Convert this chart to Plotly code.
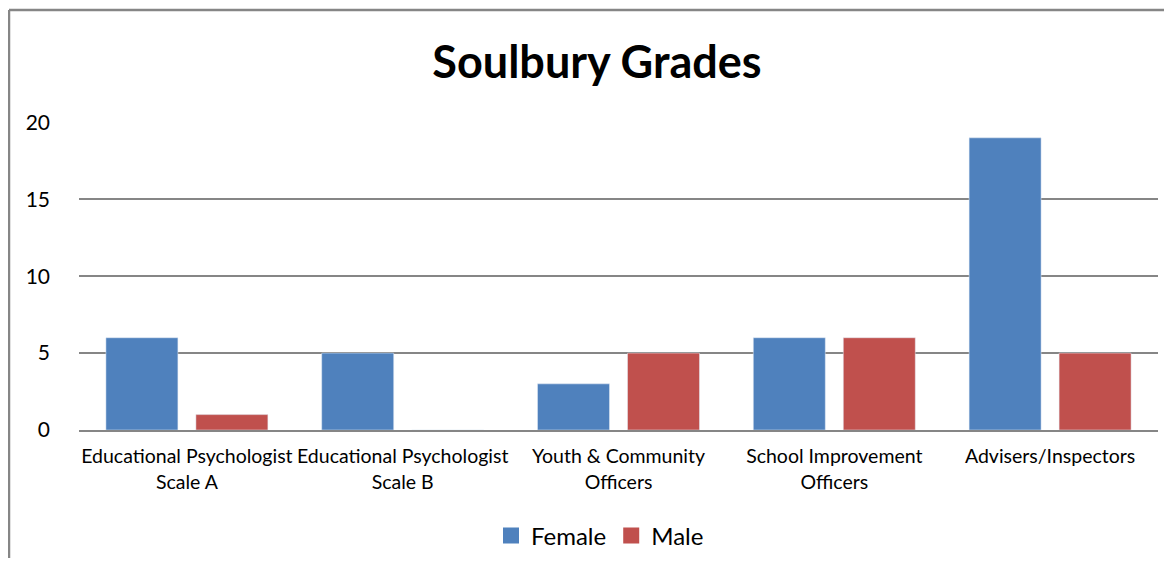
import plotly.graph_objects as go

categories = ["Educational Psychologist<br>Scale A", "Educational Psychologist<br>Scale B",
              "Youth & Community<br>Officers", "School Improvement<br>Officers", "Advisers/Inspectors"]
female = [6, 5, 3, 6, 19]
male = [1, 0, 5, 6, 5]

# page has an 8px body margin, so the figure is sized to fit inside the window
OFF = 8
W, H = 1172 - 2 * OFF, 566 - 2 * OFF
L, R, T, B = 79 - OFF, 14 - OFF, 122 - OFF, 136 - OFF
pw, ph = W - L - R, H - T - B

def px(x):
    return (x - OFF - L) / pw

def py(y):
    return (H - B - (y - OFF)) / ph

font = "Lato, Calibri, sans-serif"
blue, red = "#4F81BD", "#C0504D"

fig = go.Figure()
fig.add_trace(go.Bar(name="Female", x=categories, y=female, marker_color=blue, showlegend=False))
fig.add_trace(go.Bar(name="Male", x=categories, y=male, marker_color=red, showlegend=False))
# legend entries with larger square swatches
fig.add_trace(go.Scatter(name="Female", x=[None], y=[None], mode="markers",
                         marker=dict(symbol="square", size=16, color=blue)))
fig.add_trace(go.Scatter(name="Male", x=[None], y=[None], mode="markers",
                         marker=dict(symbol="square", size=16, color=red)))

fig.update_layout(
    width=W, height=H,
    margin=dict(l=L, r=R, t=T, b=B, autoexpand=False),
    paper_bgcolor="white", plot_bgcolor="white",
    barmode="group", bargap=0.166, bargroupgap=0.2,
    font=dict(family=font, color="black"),
    title=dict(text="<b>Soulbury Grades</b>", x=px(597), xref="paper", xanchor="center",
               y=1 - (62 - OFF) / H, yanchor="middle", font=dict(size=45, family=font)),
    legend=dict(orientation="h", x=px(600), xref="paper", xanchor="center",
                y=py(536), yanchor="middle", font=dict(size=24), itemwidth=30,
                traceorder="normal"),
    showlegend=True,
)
fig.update_xaxes(showline=True, linecolor="#868686", linewidth=2, tickfont=dict(size=19.5),
                 ticks="outside", ticklen=8, tickcolor="white", automargin=False)
fig.update_yaxes(range=[0, 20.03], tickvals=[0, 5, 10, 15, 20], showgrid=True,
                 gridcolor="#868686", gridwidth=1.5, automargin=False,
                 zeroline=False, tickfont=dict(size=21), ticklabelstandoff=28)

# chart border (left + top)
fig.add_shape(type="line", xref="paper", yref="paper", x0=px(9), x1=px(9), y0=py(600), y1=py(10),
              line=dict(color="#868686", width=2.5))
fig.add_shape(type="line", xref="paper", yref="paper", x0=px(9), x1=px(1200), y0=py(10), y1=py(10),
              line=dict(color="#868686", width=2.5))

fig.write_html("out.html")
